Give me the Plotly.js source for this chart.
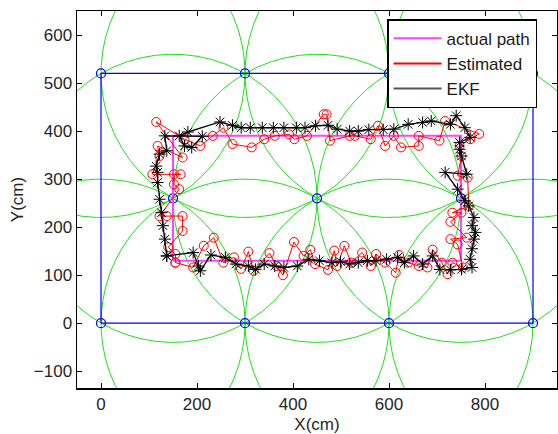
<!DOCTYPE html>
<html><head><meta charset="utf-8">
<script src="https://cdn.plot.ly/plotly-3.0.1.min.js"></script>
<style>html,body{margin:0;padding:0;background:#fff}#plot{width:558px;height:434px}</style>
</head><body><div id="plot"></div>
<script>
// Anchor (beacon) positions
const anchorX = [0, 300, 600, 900, 0, 300, 600, 900, 150, 450, 750];
const anchorY = [0, 0, 0, 0, 520, 520, 520, 520, 260, 260, 260];
const rangeRadius = 300;
// Boundary rectangle
const boundX = [0, 900, 900, 0, 0];
const boundY = [0, 0, 520, 520, 0];
// Actual path
const actualX = [150, 750, 750, 150, 150];
const actualY = [130, 130, 390, 390, 130];
// Estimated positions
const estX = [155,192,214,235,255,277,292,307,318,351,366,379,402,422,436,446,473,486,492,507,521,544,562,573,592,614,621,640,662,680,691,710,722,732,754,
  743,728,762,728,751,732,766,764,743,751,747,769,788,
  717,705,662,662,625,610,592,577,562,529,518,477,470,464,429,403,392,362,340,314,274,255,233,207,174,
  115,170,118,122,107,166,152,152,163,122,137,170,170,140,155,155];
const estY = [126,116,161,178,126,137,113,149,109,146,119,100,169,140,153,123,111,151,119,161,126,147,119,144,126,105,142,126,119,116,153,126,102,126,116,
  164,175,178,211,230,230,244,303,307,348,369,383,394,
  421,380,390,369,366,390,369,411,383,390,390,380,435,435,390,383,393,390,383,366,373,407,390,369,383,
  419,345,369,348,310,310,310,289,279,223,223,223,192,158,144,126];
// EKF positions
const ekfX = [137,192,203,207,229,259,281,307,322,340,362,381,409,433,455,481,499,518,536,555,573,595,618,632,651,670,691,706,728,751,773,
  769,773,777,780,773,777,766,758,743,717,762,751,747,747,769,758,740,728,
  688,670,640,610,588,558,536,518,492,473,447,425,407,381,359,336,311,292,274,248,181,163,174,189,211,133,
  137,122,115,118,118,122,126,129,133,137];
const ekfY = [140,147,119,109,142,137,123,119,112,123,119,116,119,133,130,126,128,123,126,130,130,133,137,126,140,123,140,112,111,112,116,
  133,155,175,189,203,220,244,255,279,314,310,348,362,376,387,407,432,414,
  421,418,414,404,403,403,400,400,404,412,411,407,407,407,407,407,407,407,412,419,398,390,369,366,389,390,
  359,352,327,314,293,258,230,203,175,140];
const legendNames = ['actual path', 'Estimated', 'EKF'];

const traces = [];
// range circles
const nSeg = 63;
for (let i = 0; i < anchorX.length; i++) {
  const cx = [], cy = [];
  for (let k = 0; k <= nSeg; k++) {
    const t = k * 2 * Math.PI / nSeg;
    cx.push(anchorX[i] + rangeRadius * Math.cos(t));
    cy.push(anchorY[i] + rangeRadius * Math.sin(t));
  }
  traces.push({x: cx, y: cy, mode: 'lines', line: {color: '#1ee01e', width: 1}, showlegend: false, hoverinfo: 'skip'});
}
traces.push({x: boundX, y: boundY, mode: 'lines', line: {color: '#0000ff', width: 1.2}, showlegend: false});
traces.push({x: anchorX, y: anchorY, mode: 'markers', marker: {symbol: 'circle-open', size: 9, color: '#0000ff', line: {width: 1.2}}, showlegend: false});
traces.push({x: actualX, y: actualY, mode: 'lines', name: legendNames[0], line: {color: '#ff44ff', width: 2}, showlegend: false});
traces.push({x: estX, y: estY, mode: 'lines+markers', name: legendNames[1], line: {color: '#ff0000', width: 1}, showlegend: false,
  marker: {symbol: 'circle-open', size: 9, color: '#ff0000', line: {width: 1}}});
traces.push({x: ekfX, y: ekfY, mode: 'lines+markers', name: legendNames[2], line: {color: '#111111', width: 1.4}, showlegend: false,
  marker: {symbol: 'asterisk-open', size: 10, color: '#000000', line: {width: 1, color: '#000000'}}});
// legend-only entries (line samples as in the original legend)
const legendColors = ['#ff44ff', '#ff0000', '#555555'];
for (let i = 0; i < legendNames.length; i++) {
  traces.push({x: [null], y: [null], mode: 'lines', name: legendNames[i], line: {color: legendColors[i], width: 2}, showlegend: true});
}

const font = {family: 'Liberation Sans, Arial, sans-serif', size: 17, color: '#262626'};
const layout = {
  width: 558, height: 434,
  margin: {l: 77, r: 1, t: 11, b: 46},
  paper_bgcolor: '#fff', plot_bgcolor: '#fff',
  font: font,
  showlegend: true,
  legend: {x: 0.646, y: 0.978, xanchor: 'left', yanchor: 'top', bgcolor: '#fff', bordercolor: '#000', borderwidth: 1.5,
    font: {family: 'Liberation Sans, Arial, sans-serif', size: 17, color: '#1a1a1a'}, tracegroupgap: 0, traceorder: 'normal',
    itemwidth: 48},
  xaxis: {range: [-50, 950], tickvals: [0, 200, 400, 600, 800], showgrid: false, zeroline: false,
    showline: true, linecolor: '#000', linewidth: 1.5, mirror: 'ticks', ticks: 'inside', ticklen: 5, tickcolor: '#000',
    title: {text: 'X(cm)', standoff: 13, font: font}},
  yaxis: {range: [-135, 650], tickvals: [-100, 0, 100, 200, 300, 400, 500, 600], showgrid: false, zeroline: false,
    showline: true, linecolor: '#000', linewidth: 1.5, mirror: 'ticks', ticks: 'inside', ticklen: 5, tickcolor: '#000',
    title: {text: 'Y(cm)', standoff: 6, font: font}}
};
Plotly.newPlot('plot', traces, layout, {displayModeBar: false, staticPlot: true});
</script></body></html>
